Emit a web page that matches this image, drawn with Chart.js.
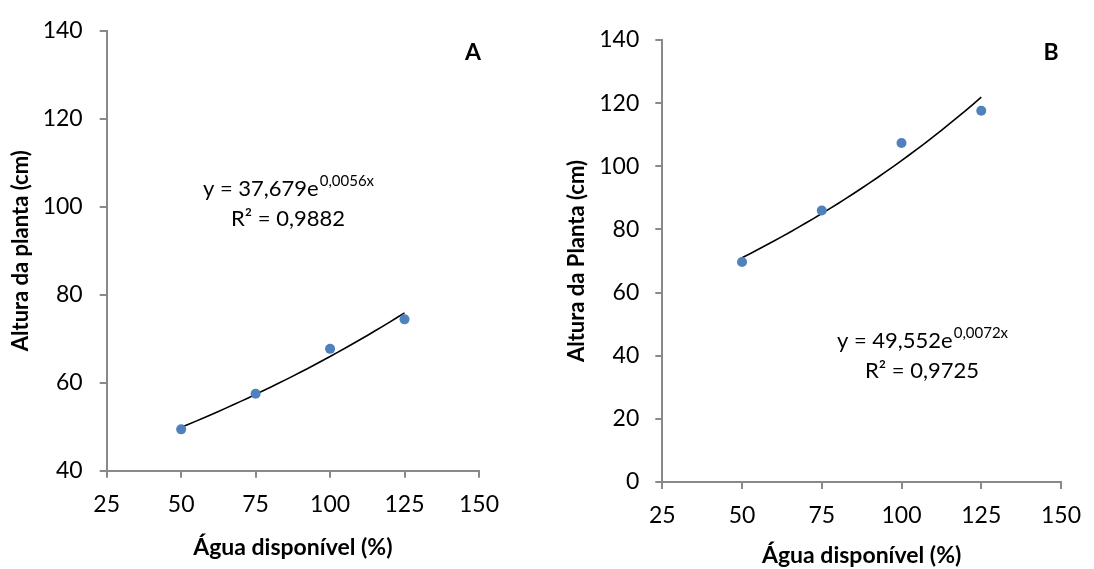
<!DOCTYPE html>
<html><head><meta charset="utf-8">
<script src="https://cdn.jsdelivr.net/npm/chart.js@4"></script>
<style>
body{margin:0;background:#fff;width:1094px;height:569px;overflow:hidden;position:relative}
canvas{position:absolute;top:0}
</style></head>
<body>
<canvas id="cA" width="540" height="569" style="left:0px"></canvas>
<canvas id="cB" width="554" height="569" style="left:540px"></canvas>
<script>
// ---- data ----
const waterLevels = [50, 75, 100, 125];
const heightA = [49.4, 57.5, 67.7, 74.4];
const heightB = [69.7, 86.0, 107.4, 117.6];
const xTicks = [25, 50, 75, 100, 125, 150];
const yTicksA = [40, 60, 80, 100, 120, 140];
const yTicksB = [0, 20, 40, 60, 80, 100, 120, 140];
const trendCoefA = [37.679, 0.0056];
const trendCoefB = [49.552, 0.0072];
const eqTextA = ['y = 37,679e', '0,0056x', 'R² = 0,9882'];
const eqTextB = ['y = 49,552e', '0,0072x', 'R² = 0,9725'];
const xTitle = 'Água disponível (%)';
const yTitleA = 'Altura da planta (cm)';
const yTitleB = 'Altura da Planta (cm)';

const FONT = 'Lato';
const AXIS = '#898989';
const BLUE = '#4F81BD';

// trendline drawn from the displayed regression equation y = a·e^(b·x)
function trendPoints(coef) {
  const pts = [];
  for (let x = waterLevels[0]; x <= waterLevels[waterLevels.length - 1] + 1e-9; x += 2.5) {
    pts.push({x: x, y: coef[0] * Math.exp(coef[1] * x)});
  }
  return pts;
}

const annotPlugin = {
  id: 'annot',
  afterDraw(chart, args, o) {
    const ctx = chart.ctx;
    ctx.save();
    ctx.fillStyle = '#000';
    ctx.font = 'bold 23px ' + FONT;
    ctx.textAlign = 'center';
    ctx.textBaseline = 'middle';
    ctx.fillText(o.letter, o.letterX, o.letterY);
    ctx.font = '22px ' + FONT;
    const w1 = ctx.measureText(o.eq[0]).width;
    ctx.font = '15px ' + FONT;
    const w2 = ctx.measureText(o.eq[1]).width;
    const start = o.eqX - (w1 + w2) / 2;
    ctx.textAlign = 'left';
    ctx.textBaseline = 'alphabetic';
    ctx.font = '22px ' + FONT;
    ctx.fillText(o.eq[0], start, o.eqY);
    ctx.font = '15px ' + FONT;
    ctx.fillText(o.eq[1], start + w1 + 1, o.eqY - 10);
    ctx.font = '22px ' + FONT;
    ctx.textAlign = 'center';
    ctx.fillText(o.eq[2], o.eqX, o.eqY + 30);
    ctx.restore();
  }
};

function makeChart(id, heights, coef, yTicks, yTitle, geom, annot) {
  return new Chart(document.getElementById(id), {
    type: 'scatter',
    data: {
      datasets: [
        {
          label: 'trend',
          data: trendPoints(coef),
          showLine: true,
          borderColor: '#000',
          borderWidth: 1.6,
          pointRadius: 0,
          fill: false,
          order: 1
        },
        {
          label: 'obs',
          data: waterLevels.map((x, i) => ({x: x, y: heights[i]})),
          backgroundColor: BLUE,
          borderWidth: 0,
          pointRadius: 5,
          order: 0
        }
      ]
    },
    options: {
      responsive: false,
      animation: false,
      events: [],
      layout: {padding: {top: geom.top, right: geom.right, left: 0, bottom: 0}},
      plugins: {legend: {display: false}, tooltip: {enabled: false}, annot: annot},
      scales: {
        x: {
          type: 'linear',
          min: xTicks[0], max: xTicks[xTicks.length - 1],
          ticks: {stepSize: xTicks[1] - xTicks[0], color: '#000', font: {family: FONT, size: 23}, padding: geom.xTickPad},
          grid: {drawOnChartArea: false, drawTicks: true, tickLength: 7, color: AXIS, lineWidth: 2},
          border: {color: AXIS, width: 2},
          title: {display: true, text: xTitle, color: '#000', font: {family: FONT, size: 23, weight: 'bold'}, padding: {top: 0, bottom: geom.xTitlePad}},
          afterFit: s => { s.height = geom.xH; }
        },
        y: {
          type: 'linear',
          min: yTicks[0], max: yTicks[yTicks.length - 1],
          ticks: {stepSize: yTicks[1] - yTicks[0], color: '#000', font: {family: FONT, size: 23}, padding: geom.yTickPad},
          grid: {drawOnChartArea: false, drawTicks: true, tickLength: 7, color: AXIS, lineWidth: 2},
          border: {color: AXIS, width: 2},
          title: {display: true, text: yTitle, color: '#000', font: {family: FONT, size: 22, weight: 'bold'}, padding: {top: geom.yTitlePad, bottom: 0}},
          afterFit: s => { s.width = geom.yW; }
        }
      }
    },
    plugins: [annotPlugin]
  });
}

makeChart('cA', heightA, trendCoefA, yTicksA, yTitleA,
  {top: 24, right: 61, xH: 98.3, yW: 106.7, xTickPad: 13, yTickPad: 17, xTitlePad: 8, yTitlePad: 8},
  {letter: 'A', letterX: 473, letterY: 53, eq: eqTextA, eqX: 288, eqY: 196});

makeChart('cB', heightB, trendCoefB, yTicksB, yTitleB,
  {top: 40, right: 33, xH: 87, yW: 122.3, xTickPad: 13, yTickPad: 16, xTitlePad: 0, yTitlePad: 24},
  {letter: 'B', letterX: 511, letterY: 53, eq: eqTextB, eqX: 382, eqY: 348});
</script>
</body></html>
